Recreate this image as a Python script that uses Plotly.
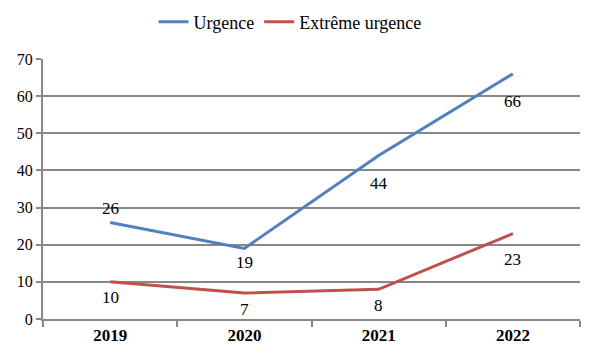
import plotly.graph_objects as go

years = ["2019", "2020", "2021", "2022"]
urgence = [26, 19, 44, 66]
extreme = [10, 7, 8, 23]
urgence_label_shift = [14, -14, -28, -28]
extreme_label_shift = [-16, -16, -16, -26]

blue = "#4F81BD"
red = "#C0504D"
font_family = "Liberation Serif"

fig = go.Figure()
fig.add_trace(go.Scatter(x=years, y=urgence, mode="lines", name="Urgence",
                         line=dict(color=blue, width=3)))
fig.add_trace(go.Scatter(x=years, y=extreme, mode="lines", name="Extrême urgence",
                         line=dict(color=red, width=3)))

for ys, shifts in [(urgence, urgence_label_shift), (extreme, extreme_label_shift)]:
    for i, (y, s) in enumerate(zip(ys, shifts)):
        fig.add_annotation(x=i, y=y, text=str(y), showarrow=False, yshift=s,
                           font=dict(family=font_family, size=17, color="black"))

fig.update_layout(
    width=591, height=350,
    margin=dict(l=35, r=19, t=51, b=39, autoexpand=False),
    paper_bgcolor="white", plot_bgcolor="white",
    font=dict(family=font_family, size=16, color="black"),
    legend=dict(orientation="h", x=0.46, xanchor="center", y=1.142, yanchor="middle",
                font=dict(size=18), tracegroupgap=0,
                bgcolor="rgba(0,0,0,0)"),
    showlegend=True,
)
fig.update_xaxes(type="category", range=[-0.5, 3.5], tickson="boundaries", ticks="outside", ticklen=6,
                 tickcolor="#878787", tickwidth=2, showline=True, linecolor="#878787",
                 linewidth=2, showgrid=False,
                 tickfont=dict(family=font_family, size=17, color="black", weight="bold"))
fig.update_yaxes(range=[0, 70], dtick=10, ticks="outside", ticklen=5, tickcolor="#878787",
                 tickwidth=2, showline=True, linecolor="#878787", linewidth=2,
                 showgrid=True, gridcolor="#878787", gridwidth=2, zeroline=False,
                 tickfont=dict(family=font_family, size=16, color="black"))

fig.write_html("out.html")
